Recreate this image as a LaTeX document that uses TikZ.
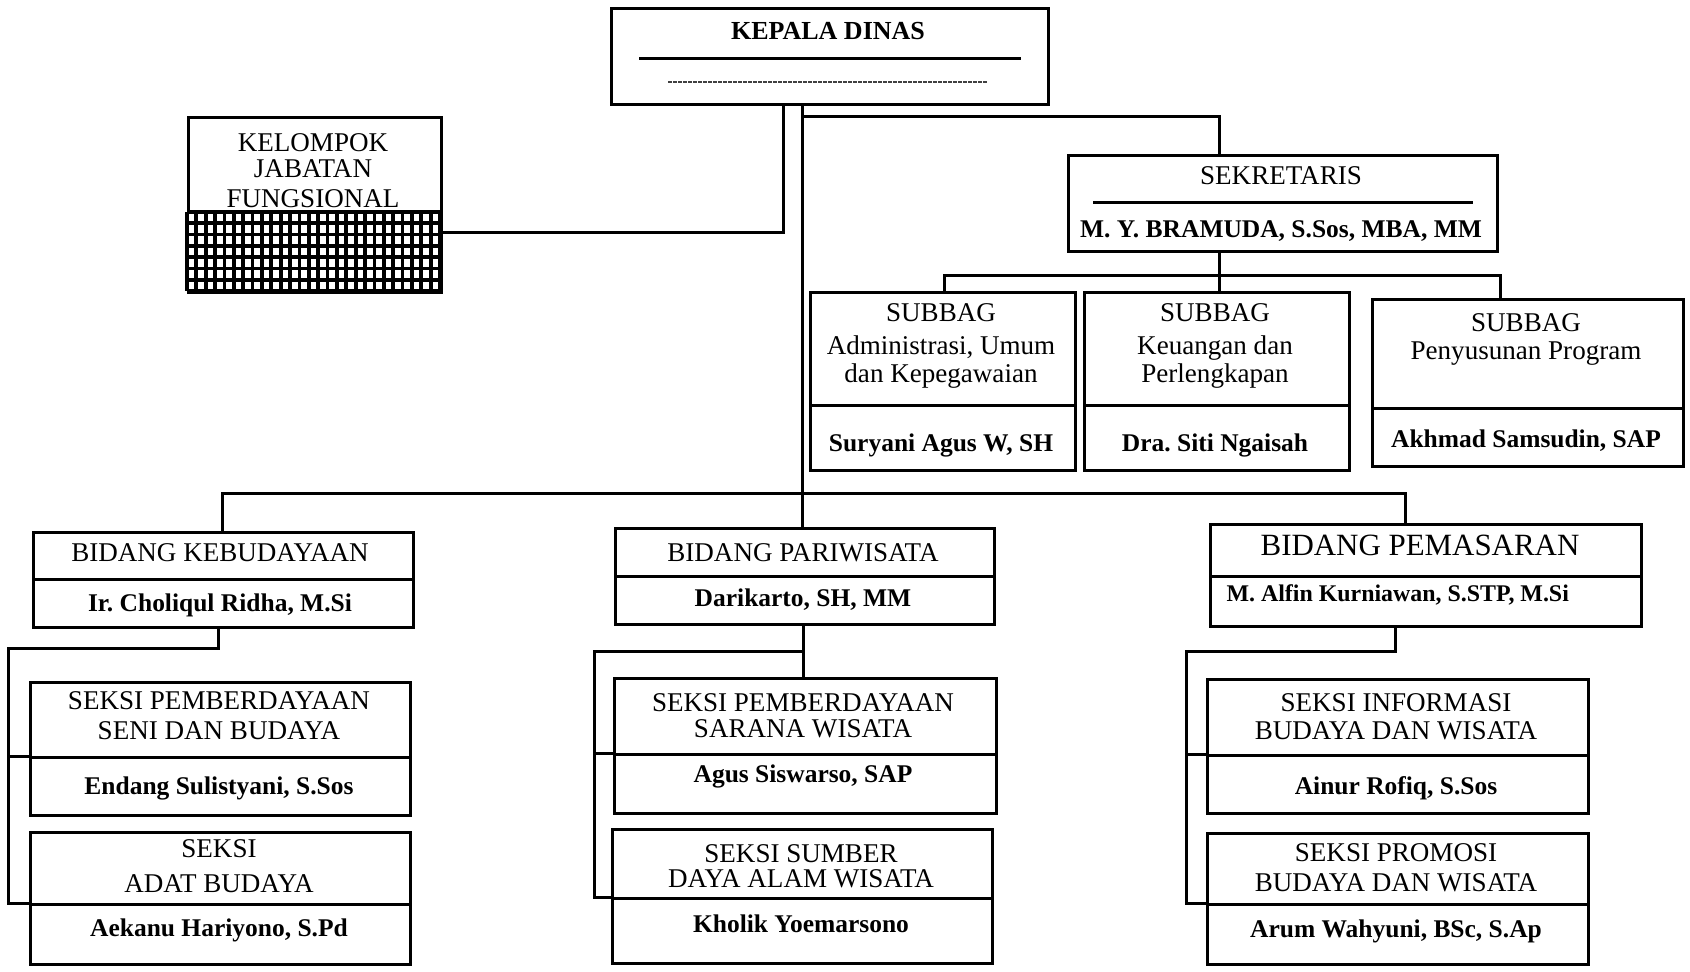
\documentclass[tikz,border=0pt]{standalone}
\usepackage{fontspec}
\setmainfont{Liberation Serif}
\frenchspacing
\newcommand\mybox[5]{\node[box, anchor=north west, minimum width={(#4-#2)*0.1mm}, minimum height={(#5-#3)*0.1mm}] (#1) at (#2,#3) {};}
\newcommand\mytxt[5]{\node[#4, anchor=base] (#1) at (#2,{#3+9}) {#5};}
\begin{document}
\frenchspacing
\begin{tikzpicture}[x=0.1mm,y=-0.1mm,line width=0.3mm,
  box/.style={draw, rectangle, inner sep=0pt, line width=0.3mm},
  ttl/.style={inner sep=0pt, font=\fontsize{7.7}{9}\selectfont},
  nm/.style={inner sep=0pt, font=\fontsize{7.25}{9}\selectfont\bfseries},
  kd/.style={inner sep=0pt, font=\fontsize{7.4}{9}\selectfont\bfseries},
  big/.style={inner sep=0pt, font=\fontsize{8.8}{10}\selectfont},
  conn/.style={line width=0.3mm},
  hatch/.style={line width=0.38mm}]
\useasboundingbox (0,0) rectangle (1690,971);
\fill[white] (0,0) rectangle (1690,971);

% ---------- boxes ----------
\mybox{kepala}{610}{7}{1047}{103}
\mybox{kjf}{187}{116}{440}{291}
\mybox{sek}{1067}{154}{1496}{250}
\mybox{sbat}{809}{291}{1074}{404}
\mybox{sban}{809}{404}{1074}{469}
\mybox{sbbt}{1083}{291}{1348}{404}
\mybox{sbbn}{1083}{404}{1348}{469}
\mybox{sbct}{1371}{298}{1682}{407}
\mybox{sbcn}{1371}{407}{1682}{465}
\mybox{bkt}{32}{531}{412}{578}
\mybox{bkn}{32}{578}{412}{626}
\mybox{bpt}{614}{527}{993}{575}
\mybox{bpn}{614}{575}{993}{623}
\mybox{bmt}{1209}{523}{1640}{575}
\mybox{bmn}{1209}{575}{1640}{625}
\mybox{kat}{29}{681}{409}{756}
\mybox{kan}{29}{756}{409}{814}
\mybox{kbt}{29}{831}{409}{903}
\mybox{kbn}{29}{903}{409}{963}
\mybox{pat}{613}{677}{995}{753}
\mybox{pan}{613}{753}{995}{812}
\mybox{pbt}{611}{828}{991}{897}
\mybox{pbn}{611}{897}{991}{962}
\mybox{mat}{1206}{678}{1587}{754}
\mybox{man}{1206}{754}{1587}{812}
\mybox{mbt}{1206}{832}{1587}{903}
\mybox{mbn}{1206}{903}{1587}{963}

% ---------- inner rules ----------
\draw[conn] (639,58) -- (1021,58);
\draw[line width=0.2mm, black!75, dash pattern=on 0.35mm off 0.15mm] (668,82) -- (987,82);
\draw[conn] (1093,202) -- (1473,202);

% ---------- texts ----------
\mytxt{tkd}{828}{30}{kd}{KEPALA DINAS}
\mytxt{tkja}{313}{142}{ttl}{KELOMPOK}
\mytxt{tkjb}{313}{168}{ttl}{JABATAN}
\mytxt{tkjc}{313}{198}{ttl}{FUNGSIONAL}
\mytxt{tsek}{1281}{175}{ttl}{SEKRETARIS}
\mytxt{tsekn}{1281}{228}{nm}{M. Y. BRAMUDA, S.Sos, MBA, MM}
\mytxt{tsaa}{941}{312}{ttl}{SUBBAG}
\mytxt{tsab}{941}{345}{ttl}{Administrasi, Umum}
\mytxt{tsac}{941}{373}{ttl}{dan Kepegawaian}
\mytxt{tsan}{941}{442}{nm}{Suryani Agus W, SH}
\mytxt{tsba}{1215}{312}{ttl}{SUBBAG}
\mytxt{tsbb}{1215}{345}{ttl}{Keuangan dan}
\mytxt{tsbc}{1215}{373}{ttl}{Perlengkapan}
\mytxt{tsbn}{1215}{442}{nm}{Dra. Siti Ngaisah}
\mytxt{tsca}{1526}{322}{ttl}{SUBBAG}
\mytxt{tscb}{1526}{350}{ttl}{Penyusunan Program}
\mytxt{tscn}{1526}{438}{nm}{Akhmad Samsudin, SAP}
\mytxt{tbk}{220}{552}{ttl}{BIDANG KEBUDAYAAN}
\mytxt{tbkn}{220}{602}{nm}{Ir. Choliqul Ridha, M.Si}
\mytxt{tbp}{803}{552}{ttl}{BIDANG PARIWISATA}
\mytxt{tbpn}{803}{597}{nm}{Darikarto, SH, MM}
\mytxt{tbm}{1420}{546}{big}{BIDANG PEMASARAN}
\node[nm, anchor=base west, font=\fontsize{6.8}{9}\selectfont\bfseries] (tbmn) at (1225,601) {M. Alfin Kurniawan, S.STP, M.Si};
\mytxt{tkaa}{219}{700}{ttl}{SEKSI PEMBERDAYAAN}
\mytxt{tkab}{219}{730}{ttl}{SENI DAN BUDAYA}
\mytxt{tkan}{219}{785}{nm}{Endang Sulistyani, S.Sos}
\mytxt{tkba}{219}{848}{ttl}{SEKSI}
\mytxt{tkbb}{219}{883}{ttl}{ADAT BUDAYA}
\mytxt{tkbn}{219}{927}{nm}{Aekanu Hariyono, S.Pd}
\mytxt{tpaa}{803}{702}{ttl}{SEKSI PEMBERDAYAAN}
\mytxt{tpab}{803}{728}{ttl}{SARANA WISATA}
\mytxt{tpan}{803}{773}{nm}{Agus Siswarso, SAP}
\mytxt{tpba}{801}{853}{ttl}{SEKSI SUMBER}
\mytxt{tpbb}{801}{878}{ttl}{DAYA ALAM WISATA}
\mytxt{tpbn}{801}{923}{nm}{Kholik Yoemarsono}
\mytxt{tmaa}{1396}{702}{ttl}{SEKSI INFORMASI}
\mytxt{tmab}{1396}{730}{ttl}{BUDAYA DAN WISATA}
\mytxt{tman}{1396}{785}{nm}{Ainur Rofiq, S.Sos}
\mytxt{tmba}{1396}{852}{ttl}{SEKSI PROMOSI}
\mytxt{tmbb}{1396}{882}{ttl}{BUDAYA DAN WISATA}
\mytxt{tmbn}{1396}{928}{nm}{Arum Wahyuni, BSc, S.Ap}

% ---------- hatch on the KJF box ----------
\fill[white] (187,212) rectangle (440,291);
\foreach \i in {0,...,27} \draw[hatch] ({187+\i*9.37},212) -- ({187+\i*9.37},291);
\foreach \j in {0,...,7} \draw[hatch] (187,{212+\j*11.29}) -- (440,{212+\j*11.29});

% ---------- connectors ----------
\coordinate (cj) at (783,232);
\coordinate (cm) at (802,0);
\coordinate (cs) at (802,116);
\coordinate (sx) at (1219,0);
\draw[conn] (kepala.south -| cj) |- (kjf.east |- cj);
\draw[conn] (kepala.south -| cm) -- (bpt.north -| cm);
\draw[conn] (cs) -| (sek.north -| sx);

\coordinate (b1) at (944,275);
\coordinate (b2) at (1219,275);
\coordinate (b3) at (1500,275);
\draw[conn] (sek.south -| b2) -- (b2) -- (sbbt.north -| b2);
\draw[conn] (sbat.north -| b1) |- (b3) -- (sbct.north -| b3);

\coordinate (bb1) at (222,493);
\coordinate (bb2) at (1405,493);
\draw[conn] (bkt.north -| bb1) |- (bb2) -- (bmt.north -| bb2);

\coordinate (kx) at (218,648);
\coordinate (kb) at (8,648);
\draw[conn] (bkn.south -| kx) -- (kx) -- (kb) |- (kbn.north west);
\draw[conn] (kb |- kan.north west) -- (kan.north west);

\coordinate (px) at (803,651);
\coordinate (pb) at (594,651);
\draw[conn] (bpn.south -| px) -- (pat.north -| px);
\draw[conn] (px) -- (pb) |- (pbn.north west);
\draw[conn] (pb |- pan.north west) -- (pan.north west);

\coordinate (mx) at (1395,651);
\coordinate (mb) at (1186,651);
\draw[conn] (bmn.south -| mx) -- (mx) -- (mb) |- (mbn.north west);
\draw[conn] (mb |- man.north west) -- (man.north west);
\end{tikzpicture}
\end{document}
